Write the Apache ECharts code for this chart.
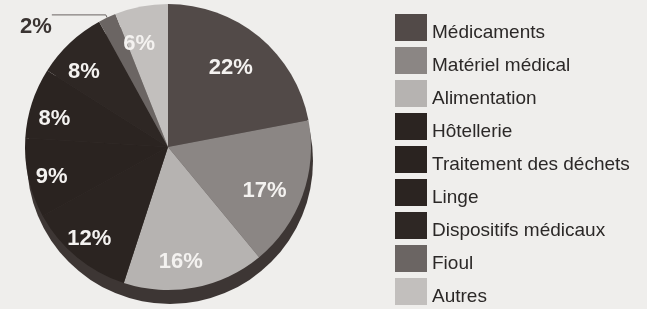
<!DOCTYPE html>
<html>
<head>
<meta charset="utf-8">
<script src="https://cdn.jsdelivr.net/npm/echarts@6/dist/echarts.min.js"></script>
<style>
  html, body { margin: 0; padding: 0; background: #efeeec; }
  #pie { width: 647px; height: 309px; }
</style>
</head>
<body>
<div id="pie"></div>
<script>
// catégories et parts (%)
var categories = ['Médicaments', 'Matériel médical', 'Alimentation', 'Hôtellerie',
    'Traitement des déchets', 'Linge', 'Dispositifs médicaux', 'Fioul', 'Autres'];
var shares = [22, 17, 16, 12, 9, 8, 8, 2, 6];
var colors = ['#524a48', '#8b8684', '#b6b3b1', '#2b2421', '#2a2320', '#2b2421', '#2e2724', '#6b6563', '#c2bfbd'];

var myChart = echarts.init(document.getElementById('pie'));

var center = [168, 147];
var radius = 143;

// la petite part (2%) a son étiquette à l'extérieur avec un trait
var sliceData = categories.map(function (name, i) {
    var item = { name: name, value: shares[i], itemStyle: { color: colors[i] } };
    if (shares[i] < 3) {
        item.label = { show: true };
        item.labelLine = { show: true };
    }
    return item;
});

// série transparente pour placer les autres étiquettes plus près du bord
var labelData = categories.map(function (name, i) {
    var item = { name: name, value: shares[i] };
    if (shares[i] < 3) {
        item.label = { show: false };
    }
    return item;
});

option = {
    backgroundColor: '#efeeec',
    animation: false,
    legend: {
        orient: 'vertical',
        left: 390,
        top: 9,
        height: 400,
        icon: 'rect',
        itemWidth: 32,
        itemHeight: 27,
        itemGap: 5,
        selectedMode: false,
        data: categories,
        formatter: '{t|{name}}',
        textStyle: {
            fontFamily: 'Liberation Sans',
            fontSize: 19,
            color: '#2b2827',
            rich: {
                t: {
                    fontFamily: 'Liberation Sans',
                    fontSize: 19,
                    color: '#2b2827',
                    padding: [10, 0, 0, 0]
                }
            }
        }
    },
    series: [
        {
            // épaisseur 3D
            type: 'pie',
            name: 'relief',
            z: 1,
            silent: true,
            center: [center[0] + 2, center[1] + 14],
            radius: radius,
            label: { show: false },
            itemStyle: { color: '#3d3634' },
            data: [{ name: 'relief', value: 1 }]
        },
        {
            type: 'pie',
            name: 'Dépenses',
            z: 2,
            center: center,
            radius: radius,
            label: {
                show: false,
                position: 'outside',
                formatter: '{p|{c}%}',
                distanceToLabelLine: 0,
                rich: {
                    p: {
                        fontFamily: 'Liberation Sans',
                        fontSize: 22,
                        fontWeight: 'bold',
                        color: '#3a3432',
                        padding: [24, 0, 0, 0]
                    }
                }
            },
            labelLine: {
                show: false,
                length: 3,
                length2: 54,
                lineStyle: { color: '#6a6462', width: 1 }
            },
            data: sliceData
        },
        {
            type: 'pie',
            name: 'étiquettes',
            z: 3,
            silent: true,
            center: [160, 153],
            radius: [74, 142],
            itemStyle: { color: 'rgba(0,0,0,0)' },
            label: {
                position: 'inside',
                formatter: '{c}%',
                fontFamily: 'Liberation Sans',
                fontSize: 22,
                fontWeight: 'bold',
                color: '#f4f2f0'
            },
            labelLine: { show: false },
            data: labelData
        }
    ]
};

myChart.setOption(option);
</script>
</body>
</html>
